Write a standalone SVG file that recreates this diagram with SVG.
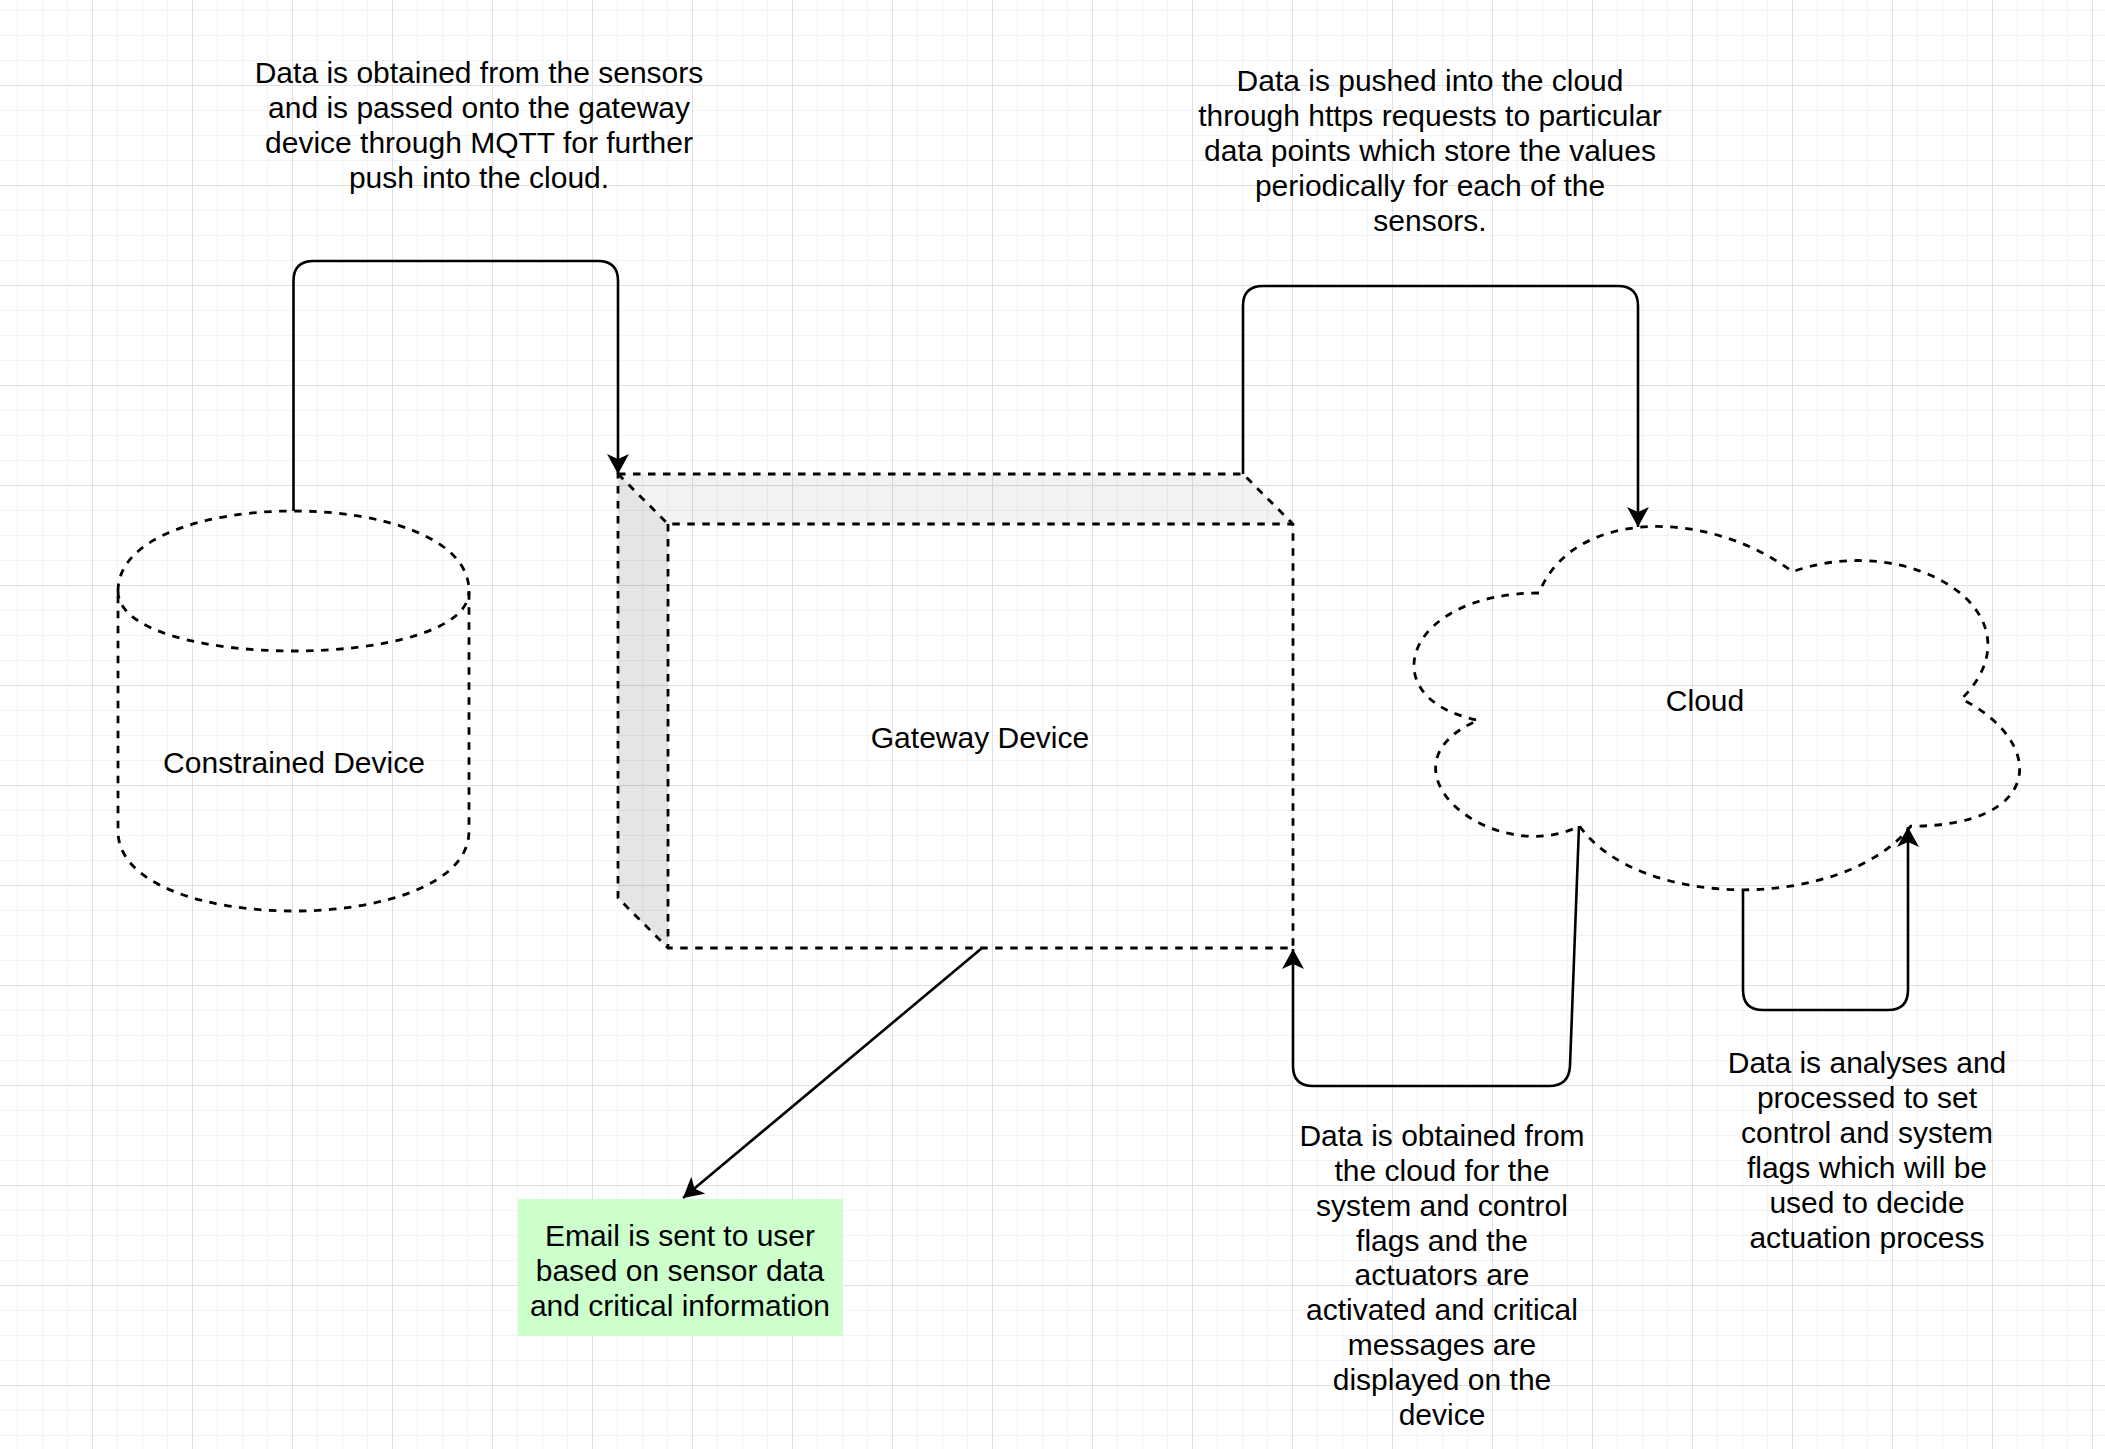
<svg xmlns="http://www.w3.org/2000/svg" width="2105" height="1449" viewBox="0 0 2105 1449">
<style>
.txt{font-family:"Liberation Sans",Arial,Helvetica,sans-serif;font-size:30px;fill:#000;text-anchor:middle}
.dash{fill:none;stroke:#000;stroke-width:2.8;stroke-dasharray:7.5 7.5}
.conn{fill:none;stroke:#000;stroke-width:2.6}
</style>
<defs>
<pattern id="grid" patternUnits="userSpaceOnUse" x="-8" y="-15" width="100" height="100">
<rect x="0" y="0" width="100" height="100" fill="#ffffff"/>
<rect x="25" y="0" width="1" height="100" fill="#f3f3f3"/>
<rect x="50" y="0" width="1" height="100" fill="#f3f3f3"/>
<rect x="75" y="0" width="1" height="100" fill="#f3f3f3"/>
<rect x="0" y="25" width="100" height="1" fill="#f3f3f3"/>
<rect x="0" y="50" width="100" height="1" fill="#f3f3f3"/>
<rect x="0" y="75" width="100" height="1" fill="#f3f3f3"/>
<rect x="0" y="0" width="1" height="100" fill="#e0e0e0"/>
<rect x="0" y="0" width="100" height="1" fill="#e0e0e0"/>
</pattern>
<marker id="arrow" markerUnits="userSpaceOnUse" viewBox="0 0 22 22" refX="20" refY="11" markerWidth="22" markerHeight="22" orient="auto">
<path d="M0,0 L20,11 L0,22 L5,11 Z" fill="#000"/>
</marker>
</defs>
<rect x="0" y="0" width="2105" height="1449" fill="url(#grid)"/>

<g id="connectors">
<path class="conn" d="M293.5,511 V281 Q293.5,261 313.5,261 H598 Q618,261 618,281 V474" marker-end="url(#arrow)"/>
<path class="conn" d="M1243,474 V306 Q1243,286 1263,286 H1618 Q1638,286 1638,306 V527" marker-end="url(#arrow)"/>
<path class="conn" d="M982,948 L683,1198" marker-end="url(#arrow)"/>
<path class="conn" d="M1579,826 L1570,1066 Q1569,1086 1549,1086 H1313 Q1293,1086 1293,1066 V949" marker-end="url(#arrow)"/>
<path class="conn" d="M1743,890 V990 Q1743,1010 1763,1010 H1888 Q1908,1010 1908,990 V827" marker-end="url(#arrow)"/>
</g>

<g id="label-mqtt">
<text class="txt" x="479" y="83">Data is obtained from the sensors</text>
<text class="txt" x="479" y="118">and is passed onto the gateway</text>
<text class="txt" x="479" y="153">device through MQTT for further</text>
<text class="txt" x="479" y="188">push into the cloud.</text>
</g>

<g id="label-https">
<text class="txt" x="1430" y="91">Data is pushed into the cloud</text>
<text class="txt" x="1430" y="126">through https requests to particular</text>
<text class="txt" x="1430" y="161">data points which store the values</text>
<text class="txt" x="1430" y="196">periodically for each of the</text>
<text class="txt" x="1430" y="231">sensors.</text>
</g>

<g id="constrained-device">
<path class="dash" d="M118,591 C118,484.3 469,484.3 469,591 L469,831 C469,937.7 118,937.7 118,831 Z"/>
<path class="dash" d="M118,591 C118,671 469,671 469,591"/>
<text class="txt" x="294" y="773">Constrained Device</text>
</g>

<g id="gateway-device">
<polygon points="618,474 1243,474 1293,524 668,524" fill="#000" fill-opacity="0.05"/>
<polygon points="618,474 668,524 668,948 618,898" fill="#000" fill-opacity="0.1"/>
<path class="dash" d="M618,474 H1243 L1293,524 V948 H668 L618,898 Z"/>
<path class="dash" d="M618,474 L668,524 H1293 M668,524 V948"/>
<text class="txt" x="980" y="748">Gateway Device</text>
</g>

<g id="cloud">
<path class="dash" d="M1539,593 C1403.8,593 1370,699 1478.2,720.2 C1370,766.8 1491.7,868.6 1579.6,826.2 C1640.4,911 1843.2,911 1910.8,826.2 C2046,826.2 2046,741.4 1961.5,699 C2046,614.2 1910.8,529.4 1792.5,571.8 C1708,508.2 1572.8,508.2 1539,593 Z"/>
<text class="txt" x="1705" y="711">Cloud</text>
</g>

<g id="email">
<rect x="518" y="1199" width="325" height="137" fill="#ccffcc"/>
<text class="txt" x="680" y="1246">Email is sent to user</text>
<text class="txt" x="680" y="1281">based on sensor data</text>
<text class="txt" x="680" y="1316">and critical information</text>
</g>

<g id="label-actuators">
<text class="txt" x="1442" y="1146">Data is obtained from</text>
<text class="txt" x="1442" y="1181">the cloud for the</text>
<text class="txt" x="1442" y="1216">system and control</text>
<text class="txt" x="1442" y="1251">flags and the</text>
<text class="txt" x="1442" y="1285">actuators are</text>
<text class="txt" x="1442" y="1320">activated and critical</text>
<text class="txt" x="1442" y="1355">messages are</text>
<text class="txt" x="1442" y="1390">displayed on the</text>
<text class="txt" x="1442" y="1425">device</text>
</g>

<g id="label-analysis">
<text class="txt" x="1867" y="1073">Data is analyses and</text>
<text class="txt" x="1867" y="1108">processed to set</text>
<text class="txt" x="1867" y="1143">control and system</text>
<text class="txt" x="1867" y="1178">flags which will be</text>
<text class="txt" x="1867" y="1213">used to decide</text>
<text class="txt" x="1867" y="1248">actuation process</text>
</g>
</svg>
